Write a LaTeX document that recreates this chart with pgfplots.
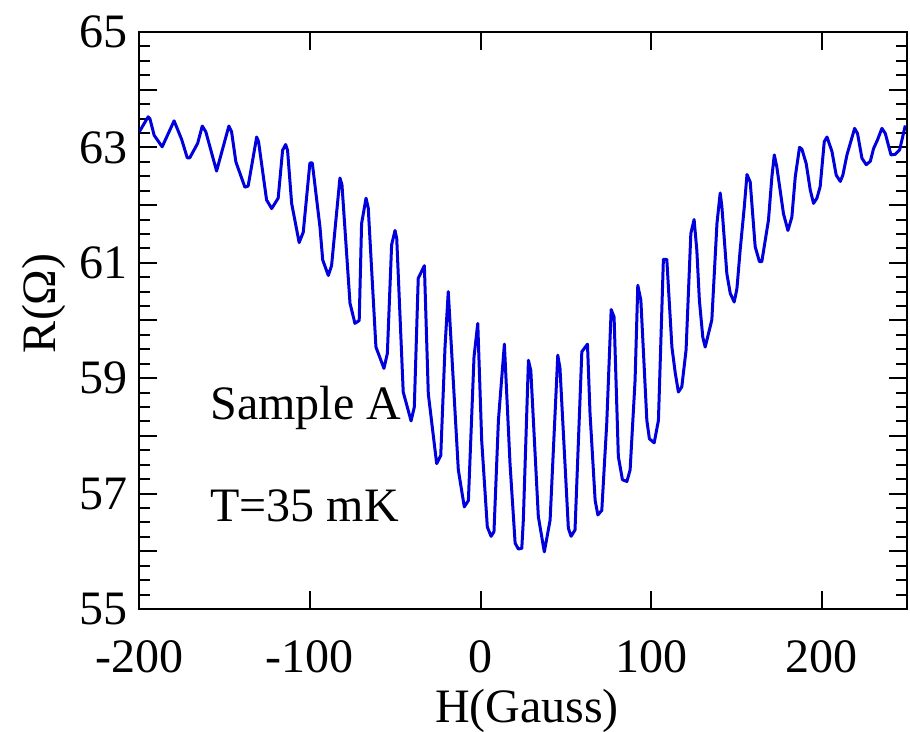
\documentclass[border=0pt]{standalone}
\usepackage{fontspec}
\setmainfont{Liberation Serif}
\usepackage{pgfplots}
\pgfplotsset{compat=1.18}
\definecolor{curveblue}{RGB}{0,0,220}
\begin{document}
\begin{tikzpicture}
\begin{axis}[
  scale only axis,
  width=383.85pt, height=288.5pt,
  xmin=-200, xmax=250, ymin=55, ymax=65,
  axis line style={line width=1pt},
  every tick/.style={black, line width=1pt},
  xtick={-200,-100,0,100,200},
  xticklabels={-200,-100,0,100,200},
  ytick={55,56,...,65},
  yticklabels={55,,57,,59,,61,,63,,65},
  minor x tick num=0,
  minor y tick num=3,
  xtick pos=both, ytick pos=both,
  tick align=inside,
  major tick length=9pt,
  minor tick length=5.5pt,
  /pgf/number format/assume math mode=true,
  tick label style={font=\fontsize{24}{28}\selectfont},
  xticklabel style={inner sep=0pt, anchor=north, yshift=-15.5pt},
  yticklabel style={inner sep=0pt, anchor=east, xshift=-5.5pt},
  label style={font=\fontsize{24}{28}\selectfont},
  xlabel={H(Gauss)},
  ylabel={R(Ω)},
  xlabel style={inner sep=0pt, at={(axis description cs:0.505,0)}, anchor=north, yshift=-40pt},
  ylabel style={inner sep=0pt, at={(axis description cs:0,0.53)}, anchor=center, yshift=47.5pt},
  clip=true,
]
\addplot[curveblue, line width=1.5pt, line join=round] table {
-200 63.27
-194.8 63.53
-193.8 63.50
-191.3 63.21
-186.6 63.01
-179.6 63.46
-175.2 63.14
-171.9 62.82
-170.4 62.82
-165.8 63.07
-163.1 63.37
-161.0 63.27
-154.7 62.59
-147.5 63.37
-145.9 63.27
-143.4 62.75
-138.1 62.31
-136.2 62.33
-131.2 63.18
-130.1 63.10
-125.4 62.09
-122.4 61.94
-118.6 62.12
-116.0 62.95
-114.2 63.05
-113.1 62.95
-110.7 62.03
-106.3 61.35
-103.9 61.53
-100.0 62.73
-98.6 62.73
-94.1 61.62
-92.5 61.05
-89.2 60.78
-87.3 60.95
-82.4 62.47
-81.2 62.35
-76.5 60.30
-73.6 59.95
-71.1 60.00
-69.7 61.68
-67.1 62.12
-65.8 61.95
-61.3 59.54
-56.6 59.17
-54.6 59.43
-52.1 61.31
-50.1 61.56
-49.1 61.42
-45.3 58.76
-40.7 58.26
-38.8 58.50
-36.5 60.73
-32.9 60.95
-30.6 58.73
-25.7 57.52
-23.3 57.66
-20.8 59.54
-18.9 60.50
-13.0 57.41
-9.5 56.77
-7.1 56.88
-3.8 59.37
-1.6 59.95
0.7 57.92
4.0 56.42
6.2 56.26
7.9 56.34
10.5 58.27
14.0 59.59
17.3 57.52
20.3 56.14
22.2 56.04
24.2 56.05
25.1 56.54
28.1 59.31
29.5 59.13
33.9 56.60
37.4 55.99
40.8 56.54
45.3 59.40
46.6 59.17
51.5 56.40
53.1 56.26
55.4 56.37
59.4 59.46
62.7 59.59
64.2 58.39
67.2 56.88
68.8 56.63
71.1 56.71
74.0 58.22
76.6 60.19
78.3 60.06
80.8 57.64
83.2 57.24
85.8 57.21
87.7 57.41
90.6 58.96
92.2 60.61
94.0 60.35
97.5 58.27
99.0 57.95
101.8 57.88
104.3 58.27
107.2 61.06
109.2 61.06
112.2 59.54
114.2 59.08
116.0 58.76
118.0 58.85
120.5 59.49
123.3 61.51
125.2 61.75
126.8 61.22
128.3 60.35
130.3 59.71
131.7 59.54
135.6 60.01
138.6 61.68
140.5 62.21
141.5 61.97
144.4 60.81
146.4 60.47
148.7 60.32
150.3 60.55
152.2 61.22
154.6 61.96
156.2 62.53
158.1 62.40
161.0 61.28
163.5 61.02
164.9 61.02
168.8 61.74
170.8 62.49
172.2 62.87
173.7 62.66
177.6 61.85
180.2 61.56
182.5 61.79
184.5 62.49
187.0 63.00
188.4 62.97
190.9 62.72
193.3 62.26
195.2 62.03
197.2 62.12
199.1 62.32
201.5 63.10
203.1 63.18
206.0 62.93
208.5 62.52
210.9 62.41
212.4 62.52
214.8 62.87
219.3 63.33
221.0 63.24
223.6 62.81
226.1 62.70
228.5 62.76
230.4 62.98
232.7 63.13
235.3 63.33
237.3 63.24
240.6 62.87
243.1 62.88
245.7 62.96
249.0 63.38
};
\node[anchor=base west, inner sep=0pt, font=\fontsize{24}{28}\selectfont] at (axis cs:-158.6,58.28) {Sample A};
\node[anchor=base west, inner sep=0pt, font=\fontsize{24}{28}\selectfont] at (axis cs:-158.6,56.51) {T=35 mK};
\end{axis}
\pgfresetboundingbox
\path (current axis.south west) ++(-69.65pt,-61.5pt) rectangle ++(455pt,366pt);
\end{tikzpicture}
\end{document}
